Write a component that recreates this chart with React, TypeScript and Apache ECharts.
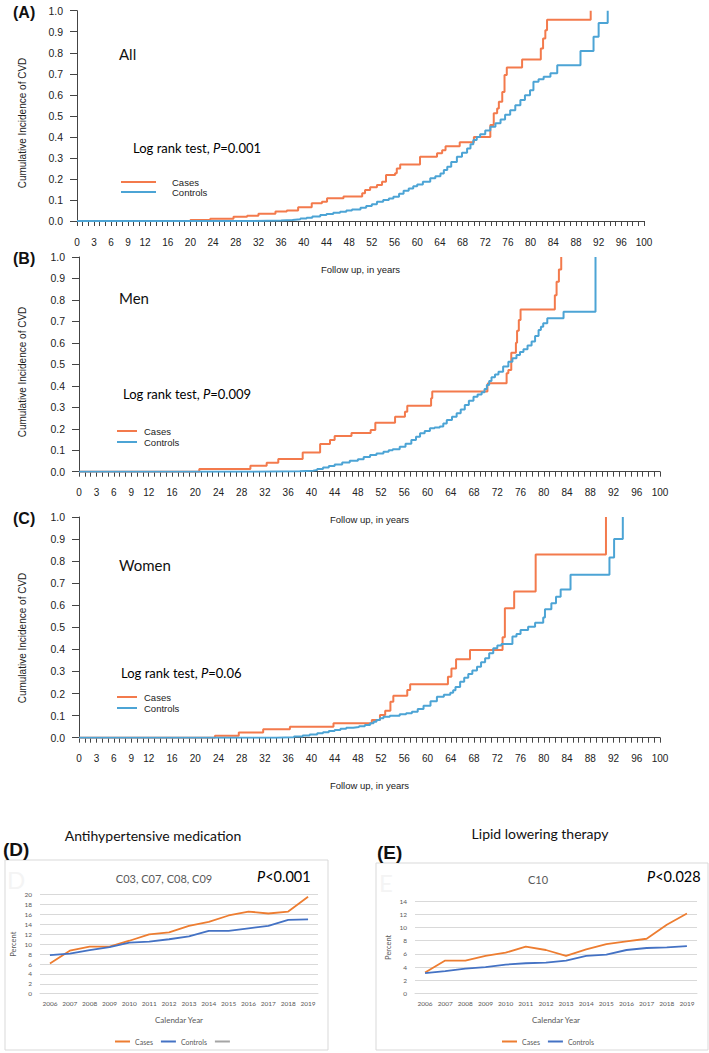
import React, { useEffect, useRef } from "react";
import * as echarts from "echarts";

// ---------- DATA ----------
// Kaplan–Meier style cumulative incidence (year, value)
const allCases: number[][] = [
  [0, 0], [20, 0.005], [23.5, 0.011], [27.6, 0.02], [30, 0.025], [32, 0.035], [35, 0.045], [37, 0.05],
  [39, 0.065], [41.4, 0.084], [43.2, 0.092], [44.1, 0.108], [47, 0.116], [50.3, 0.132], [50.8, 0.147],
  [51.7, 0.16], [52.9, 0.171], [53.8, 0.187], [54.5, 0.219], [56.1, 0.227], [56.4, 0.25], [57, 0.269],
  [60.5, 0.305], [63.5, 0.322], [64.4, 0.337], [65, 0.356], [67.5, 0.374], [70, 0.4], [72.9, 0.456],
  [73.5, 0.512], [74.1, 0.535], [74.4, 0.567], [75, 0.614], [75.4, 0.694], [75.8, 0.73], [78.5, 0.768],
  [81.8, 0.82], [82.2, 0.868], [82.6, 0.907], [82.9, 0.957], [90.6, 1.0],
];
const allControls: number[][] = [
  [0, 0], [30, 0.002], [36, 0.005], [38, 0.008], [39.4, 0.012], [40.5, 0.016], [41.5, 0.021], [42.9, 0.028],
  [44, 0.033], [45.2, 0.039], [46.4, 0.044], [47.5, 0.05], [48.5, 0.055], [50, 0.063], [51, 0.071], [52, 0.08],
  [52.9, 0.092], [54, 0.1], [55, 0.107], [55.8, 0.115], [56.8, 0.13], [57.6, 0.144], [58.5, 0.155],
  [59.3, 0.165], [60, 0.174], [61, 0.187], [62.3, 0.203], [63.2, 0.213], [64.1, 0.226], [64.7, 0.242],
  [65.3, 0.258], [66, 0.28], [67, 0.305], [67.9, 0.325], [68.8, 0.345], [69.4, 0.365], [69.9, 0.385],
  [70.5, 0.4], [71.1, 0.412], [72, 0.43], [72.9, 0.448], [73.8, 0.465], [74.7, 0.483], [75.5, 0.505],
  [76.4, 0.527], [77.3, 0.55], [78.2, 0.575], [79, 0.598], [79.9, 0.622], [80.5, 0.662], [81.4, 0.674],
  [82.3, 0.686], [83.5, 0.702], [84.7, 0.741], [88.8, 0.808], [91.1, 0.876], [92, 0.942], [93.6, 1.0],
];
const menCases: number[][] = [
  [0, 0], [20.7, 0.013], [29.5, 0.028], [32.3, 0.042], [34.3, 0.059], [38.5, 0.09], [41.5, 0.129],
  [43.2, 0.148], [44, 0.166], [46.9, 0.18], [50.2, 0.194], [51, 0.228], [54.4, 0.256], [56.1, 0.279],
  [56.5, 0.307], [60.6, 0.342], [60.8, 0.373], [70.3, 0.404], [70.4, 0.412], [73.6, 0.458], [73.9, 0.474],
  [74.4, 0.554], [75.2, 0.601], [75.4, 0.657], [75.7, 0.707], [76, 0.756], [81.9, 0.822], [82.2, 0.885],
  [82.6, 0.942], [83, 1.0],
];
const menControls: number[][] = [
  [0, 0], [30, 0.002], [38, 0.005], [40.3, 0.008], [41, 0.013], [42, 0.019], [43, 0.026], [44, 0.034],
  [45.3, 0.043], [46.6, 0.051], [48, 0.058], [49, 0.068], [50.1, 0.078], [51.2, 0.085], [52.4, 0.093],
  [53.3, 0.1], [54, 0.105], [55.2, 0.116], [56.2, 0.13], [57.2, 0.148], [58, 0.163], [58.7, 0.179],
  [59.5, 0.19], [60.4, 0.202], [61.2, 0.206], [62.1, 0.21], [62.7, 0.225], [63.3, 0.241], [64.2, 0.256],
  [65, 0.272], [65.7, 0.29], [66.4, 0.311], [67.1, 0.33], [67.9, 0.349], [68.6, 0.36], [69.3, 0.37],
  [69.8, 0.385], [70.2, 0.404], [70.6, 0.422], [71, 0.44], [71.6, 0.453], [72.2, 0.466], [73, 0.49],
  [73.9, 0.512], [74.6, 0.528], [75.3, 0.544], [75.9, 0.557], [76.5, 0.57], [77.2, 0.588], [77.9, 0.606],
  [78.5, 0.632], [79.1, 0.66], [79.5, 0.675], [79.9, 0.691], [80.6, 0.715], [83.4, 0.745], [88.9, 1.0],
];
const womenCases: number[][] = [
  [0, 0], [23.4, 0.009], [27.5, 0.024], [31.7, 0.038], [36.3, 0.05], [43.8, 0.065], [50.4, 0.08],
  [51.8, 0.103], [52.7, 0.122], [53.6, 0.163], [54.1, 0.19], [56.5, 0.216], [57, 0.242], [63.5, 0.276],
  [64.1, 0.314], [64.9, 0.355], [67.3, 0.397], [72.9, 0.455], [73.3, 0.586], [74.9, 0.663], [78.6, 0.83],
  [90.7, 1.0],
];
const womenControls: number[][] = [
  [0, 0], [34, 0.002], [37, 0.006], [38.5, 0.01], [39.7, 0.015], [41, 0.02], [42, 0.025], [43, 0.03],
  [44, 0.035], [45, 0.04], [46, 0.045], [47.2, 0.048], [48.2, 0.052], [49.2, 0.058], [50.1, 0.065],
  [50.7, 0.072], [51.2, 0.08], [51.8, 0.088], [52.4, 0.095], [53.5, 0.1], [55.2, 0.106], [56.3, 0.111],
  [57.3, 0.118], [58.3, 0.13], [59.3, 0.145], [60.5, 0.165], [61.6, 0.186], [62.8, 0.195], [63.9, 0.204],
  [64.4, 0.215], [64.8, 0.23], [65.6, 0.254], [66.3, 0.272], [67, 0.289], [67.7, 0.305], [68.5, 0.322],
  [69.2, 0.342], [69.9, 0.36], [70.6, 0.383], [71.3, 0.405], [72, 0.418], [72.7, 0.425], [74.6, 0.458],
  [75.3, 0.47], [76, 0.488], [77.3, 0.503], [78.5, 0.521], [79.9, 0.545], [80.2, 0.582], [81.3, 0.609],
  [82.1, 0.639], [82.9, 0.672], [84.6, 0.738], [91.3, 0.817], [92.1, 0.9], [93.6, 1.0],
];
const kmTickLabels = [0, 3, 6, 9, 12, 16, 20, 24, 28, 32, 36, 40, 44, 48, 52, 56, 60, 64, 68, 72, 76, 80, 84, 88, 92, 96, 100];

// Calendar-year medication use (percent)
const years = ["2006", "2007", "2008", "2009", "2010", "2011", "2012", "2013", "2014", "2015", "2016", "2017", "2018", "2019"];
const antihypCases = [6.1, 8.7, 9.5, 9.5, 10.7, 12.0, 12.4, 13.7, 14.5, 15.8, 16.6, 16.2, 16.6, 19.6];
const antihypControls = [7.8, 8.1, 8.8, 9.4, 10.3, 10.5, 11.0, 11.6, 12.7, 12.7, 13.2, 13.7, 14.9, 15.0];
const lipidCases = [3.2, 5.0, 5.0, 5.7, 6.2, 7.1, 6.6, 5.7, 6.7, 7.5, 7.9, 8.3, 10.4, 12.1];
const lipidControls = [3.1, 3.4, 3.8, 4.0, 4.4, 4.6, 4.7, 5.0, 5.7, 5.9, 6.6, 6.9, 7.0, 7.2];

// ---------- STYLE ----------
const KM_ORANGE = "#F37A4C";
const KM_BLUE = "#4CA4D5";
const XL_ORANGE = "#ED7D31";
const XL_BLUE = "#4472C4";
const XL_GRAY = "#A5A5A5";
const ARIAL = "Liberation Sans";
const CAL = "Lato";

function kmXAxis(gridIndex: number) {
  return {
    type: "value",
    gridIndex,
    min: 0,
    max: 100,
    interval: 1,
    name: "Follow up, in years",
    nameLocation: "middle",
    nameGap: 43,
    nameTextStyle: { fontFamily: ARIAL, fontSize: 9.5, color: "#222" },
    axisLine: { show: true, lineStyle: { color: "#444", width: 1 } },
    axisTick: { show: true, length: 5, lineStyle: { color: "#444", width: 1 } },
    axisLabel: {
      margin: 16,
      fontFamily: ARIAL,
      fontSize: 10,
      color: "#222",
      formatter: (v: number) => {
        const r = Math.round(v);
        return Math.abs(v - r) < 1e-6 && kmTickLabels.includes(r) ? String(r) : "";
      },
    },
    splitLine: { show: false },
  };
}
function kmYAxis(gridIndex: number) {
  return {
    type: "value",
    gridIndex,
    min: 0,
    max: 1,
    interval: 0.1,
    axisLine: { show: true, lineStyle: { color: "#444", width: 1 } },
    axisTick: { show: true, length: 7, lineStyle: { color: "#444", width: 1 } },
    axisLabel: {
      margin: 14,
      fontFamily: ARIAL,
      fontSize: 10.5,
      color: "#222",
      formatter: (v: number) => v.toFixed(1),
    },
    splitLine: { show: false },
  };
}
function xlXAxis(gridIndex: number) {
  return {
    type: "category",
    gridIndex,
    data: years,
    boundaryGap: true,
    name: "Calendar Year",
    nameLocation: "middle",
    nameGap: 22,
    nameTextStyle: { fontFamily: CAL, fontSize: 8, color: "#595959" },
    axisLine: { show: true, lineStyle: { color: "#d9d9d9" } },
    axisTick: { show: false },
    axisLabel: { interval: 0, margin: 6, fontFamily: CAL, fontSize: 6.5, color: "#595959" },
  };
}
function xlYAxis(gridIndex: number, max: number) {
  return {
    type: "value",
    gridIndex,
    min: 0,
    max,
    interval: 2,
    name: "Percent",
    nameLocation: "middle",
    nameGap: 23,
    nameTextStyle: { fontFamily: CAL, fontSize: 7.5, color: "#595959" },
    axisLine: { show: false },
    axisTick: { show: false },
    axisLabel: { margin: 8, fontFamily: CAL, fontSize: 6.5, color: "#595959" },
    splitLine: { show: true, lineStyle: { color: "#d9d9d9", width: 1 } },
  };
}
function km(name: string, data: number[][], color: string, idx: number) {
  return {
    name,
    type: "line",
    step: "end",
    xAxisIndex: idx,
    yAxisIndex: idx,
    data,
    symbol: "none",
    lineStyle: { color, width: 2 },
    itemStyle: { color },
    silent: true,
  };
}
function xl(name: string, data: number[], color: string, idx: number) {
  return {
    name,
    type: "line",
    xAxisIndex: idx,
    yAxisIndex: idx,
    data,
    symbol: "none",
    lineStyle: { color, width: 1.8 },
    itemStyle: { color },
    silent: true,
  };
}
function txt(text: string, x: number, y: number, fontSize: number, opts: any = {}) {
  return {
    type: "text",
    x,
    y,
    style: {
      text,
      fontSize,
      fontFamily: opts.fontFamily || CAL,
      fontWeight: opts.fontWeight || "normal",
      fill: opts.fill || "#111",
      textAlign: opts.align || "left",
      textVerticalAlign: "middle",
    },
    rotation: opts.rotation || 0,
  };
}
function pText(prefix: string, rest: string, x: number, y: number, fs: number) {
  return {
    type: "text",
    x,
    y,
    style: {
      text: `{n|${prefix}}{i|P}{n|${rest}}`,
      textVerticalAlign: "middle",
      rich: {
        n: { fontFamily: CAL, fontSize: fs, color: "#111" },
        i: { fontFamily: CAL, fontSize: fs, fontStyle: "italic", color: "#111" },
      },
    },
  };
}
function legendLines(x1: number, x2: number, yC: number, yK: number, tx: number) {
  return [
    { type: "line", shape: { x1, y1: yC, x2, y2: yC }, style: { stroke: KM_ORANGE, lineWidth: 2 } },
    { type: "line", shape: { x1, y1: yK, x2, y2: yK }, style: { stroke: KM_BLUE, lineWidth: 2 } },
    txt("Cases", tx, yC, 9.5, { fontFamily: ARIAL, fill: "#222" }),
    txt("Controls", tx, yK, 9.5, { fontFamily: ARIAL, fill: "#222" }),
  ];
}

export default function App() {
  const ref = useRef<HTMLDivElement>(null);
  useEffect(() => {
    if (!ref.current) return;
    const chart = echarts.init(ref.current, undefined, { renderer: "svg" });
    const option: any = {
      animation: false,
      backgroundColor: "#ffffff",
      grid: [
        { left: 77, top: 10.7, width: 567, height: 210.3 },
        { left: 79, top: 257, width: 581, height: 214.7 },
        { left: 79, top: 517, width: 581, height: 220.7 },
        { left: 40, top: 894.7, width: 278, height: 99 },
        { left: 415, top: 901, width: 282, height: 92.7 },
      ],
      xAxis: [kmXAxis(0), kmXAxis(1), kmXAxis(2), xlXAxis(3), xlXAxis(4)],
      yAxis: [kmYAxis(0), kmYAxis(1), kmYAxis(2), xlYAxis(3, 20), xlYAxis(4, 14)],
      legend: [
        {
          data: ["Cases", "Controls", " "],
          left: 110,
          top: 1033,
          icon: "rect",
          itemWidth: 15,
          itemHeight: 2,
          itemGap: 8,
          selectedMode: false,
          textStyle: { fontFamily: CAL, fontSize: 7, color: "#595959" },
        },
        {
          data: ["Cases", "Controls"],
          left: 497,
          top: 1033,
          icon: "rect",
          itemWidth: 15,
          itemHeight: 2,
          itemGap: 8,
          selectedMode: false,
          textStyle: { fontFamily: CAL, fontSize: 7, color: "#595959" },
        },
      ],
      series: [
        km("All cases", allCases, KM_ORANGE, 0),
        km("All controls", allControls, KM_BLUE, 0),
        km("Men cases", menCases, KM_ORANGE, 1),
        km("Men controls", menControls, KM_BLUE, 1),
        km("Women cases", womenCases, KM_ORANGE, 2),
        km("Women controls", womenControls, KM_BLUE, 2),
        xl("Cases", antihypCases, XL_ORANGE, 3),
        xl("Controls", antihypControls, XL_BLUE, 3),
        xl(" ", [], XL_GRAY, 3),
        xl("Cases", lipidCases, XL_ORANGE, 4),
        xl("Controls", lipidControls, XL_BLUE, 4),
      ],
      graphic: [
        // boxes for D and E
        { type: "rect", shape: { x: 5, y: 860, width: 323, height: 190 }, style: { fill: "none", stroke: "#d9d9d9", lineWidth: 1 }, z: -10 },
        { type: "rect", shape: { x: 376, y: 863, width: 332, height: 187 }, style: { fill: "none", stroke: "#d9d9d9", lineWidth: 1 }, z: -10 },
        // panel letters
        txt("(A)", 13, 12, 16, { fontFamily: ARIAL, fontWeight: "bold" }),
        txt("(B)", 13, 258, 16, { fontFamily: ARIAL, fontWeight: "bold" }),
        txt("(C)", 13, 518, 16, { fontFamily: ARIAL, fontWeight: "bold" }),
        txt("(D)", 3, 849, 19, { fontFamily: ARIAL, fontWeight: "bold" }),
        txt("(E)", 377, 852, 19, { fontFamily: ARIAL, fontWeight: "bold" }),
        // y axis titles
        txt("Cumulative Incidence of CVD", 22, 123, 10, { fontFamily: ARIAL, align: "center", rotation: Math.PI / 2, fill: "#222" }),
        txt("Cumulative Incidence of CVD", 22, 372, 10, { fontFamily: ARIAL, align: "center", rotation: Math.PI / 2, fill: "#222" }),
        txt("Cumulative Incidence of CVD", 22, 638, 10, { fontFamily: ARIAL, align: "center", rotation: Math.PI / 2, fill: "#222" }),
        // subgroup labels
        txt("All", 119, 54, 15),
        txt("Men", 119, 298, 15),
        txt("Women", 119, 565, 15),
        pText("Log rank test, ", "=0.001", 133, 148, 13),
        pText("Log rank test, ", "=0.009", 123, 394, 13),
        pText("Log rank test, ", "=0.06", 121, 673, 13),
        ...legendLines(121, 156, 182, 192, 172),
        ...legendLines(117, 137, 431, 442, 144),
        ...legendLines(117, 137, 697, 708, 144),
        // bottom panels
        txt("Antihypertensive medication", 153, 835, 14, { align: "center" }),
        txt("Lipid lowering therapy", 540, 833, 14, { align: "center" }),
        txt("D", 7, 879, 24, { fill: "#f4f4f4", fontFamily: CAL }),
        txt("E", 379, 882, 24, { fill: "#f4f4f4", fontFamily: CAL }),
        txt("C03, C07, C08, C09", 164, 878, 11, { align: "center", fill: "#595959" }),
        txt("C10", 538, 879, 11, { align: "center", fill: "#595959" }),
        pText("", "<0.001", 257, 876, 14.5),
        pText("", "<0.028", 647, 876, 14.5),
      ],
    };
    chart.setOption(option);
    return () => chart.dispose();
  }, []);
  return (
    <div
      ref={ref}
      style={{ position: "absolute", left: 0, top: 0, width: 709, height: 1053, background: "#fff" }}
    />
  );
}
